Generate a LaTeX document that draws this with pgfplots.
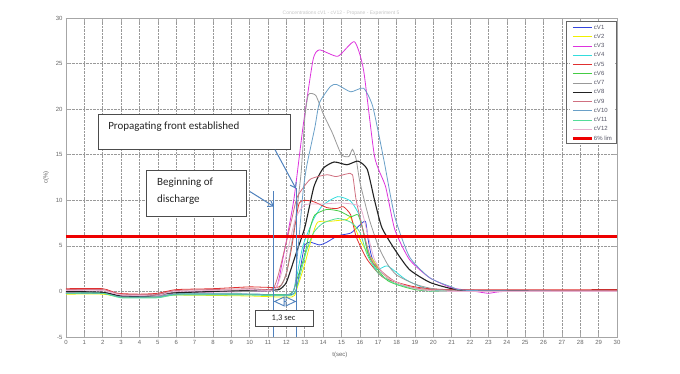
\documentclass[border=0pt]{standalone}
\usepackage{fontspec}
\setmainfont{Liberation Sans}
\newfontfamily\calibri{Carlito}
\usepackage{pgfplots}
\pgfplotsset{compat=1.18}
\usetikzlibrary{arrows.meta}
\definecolor{cva}{HTML}{3344DD}
\definecolor{cvb}{HTML}{F0F000}
\definecolor{cvc}{HTML}{DD33DD}
\definecolor{cvd}{HTML}{33DDDD}
\definecolor{cve}{HTML}{E03030}
\definecolor{cvf}{HTML}{44CC44}
\definecolor{cvg}{HTML}{999999}
\definecolor{cvh}{HTML}{222222}
\definecolor{cvi}{HTML}{D07080}
\definecolor{cvj}{HTML}{6AA0C8}
\definecolor{cvk}{HTML}{55DD99}
\definecolor{cvl}{HTML}{E8B0D0}
\definecolor{limred}{HTML}{EE0000}
\definecolor{annblue}{HTML}{4F81BD}
\definecolor{legtext}{HTML}{555566}
\newcommand{\lt}[1]{\textcolor{legtext}{#1}}
\begin{document}
\begin{tikzpicture}[x=1pt,y=1pt]
\begin{axis}[
  at={(66pt,36pt)}, anchor=south west,
  scale only axis, width=551pt, height=319pt,
  xmin=0, xmax=30, ymin=-5, ymax=30,
  xtick={0,1,...,30}, ytick={-5,0,...,30},
  grid=major,
  major grid style={densely dotted, draw=gray!80, line width=0.6pt},
  axis line style={draw=gray!70},
  tick style={draw=gray!70, line width=0.6pt},
  major tick length=4pt,
  xtick pos=both, ytick pos=both,
  ticklabel style={font=\fontsize{6}{7}\selectfont, text=gray!80!black},
  /pgf/number format/assume math mode=true,
  xlabel={t(sec)}, ylabel={c(\%)},
  label style={font=\fontsize{6}{7}\selectfont, text=gray!80!black},
  xlabel style={at={(axis description cs:0.497,-0.036)}, anchor=north},
  legend style={at={(1,1)}, anchor=north east, xshift=-2pt, yshift=-4pt,
    font=\fontsize{6}{7}\selectfont, draw=none, fill=white,
    cells={anchor=west}, inner xsep=2pt, inner ysep=1.5pt, row sep=1.85pt,
    nodes={inner sep=0.8pt, text height=4.6pt, text depth=1.2pt}},
  legend image code/.code={\draw[#1] (0pt,0pt) -- (19pt,0pt);},
  every axis plot/.append style={line width=0.8pt, smooth, tension=0.35},
]
\addplot[draw=cva] coordinates {(0,-0.2)(2,-0.2)(3,-0.6)(5,-0.6)(6,-0.3)(10,-0.3)(12,-0.4)(12.5,0)(12.8,3)(13.0,5.1)(13.3,5.4)(13.8,5.1)(14.2,5.4)(14.8,6.1)(15.5,6.4)(15.9,7.1)(16.3,7.7)(16.45,5.7)(16.7,3.5)(17.5,1.5)(19,0.3)(21,0)(30,0)};
\addlegendentry{\lt{cV1}}
\addplot[draw=cvb] coordinates {(0,-0.3)(2,-0.3)(3,-0.6)(5,-0.6)(6,-0.4)(10,-0.5)(12.3,-0.6)(12.6,0.5)(13,3)(13.4,6)(13.7,7.6)(14.4,7.7)(15.3,7.9)(15.5,8.1)(16,5.7)(16.4,4.3)(17.5,1.5)(19,0.3)(21,0)(30,0)};
\addlegendentry{\lt{cV2}}
\addplot[draw=cvc] coordinates {(0,-0.1)(2,-0.1)(3,-0.5)(5,-0.5)(6,-0.1)(10,0)(11.4,0.3)(11.8,3.5)(12.4,10)(12.9,18)(13.45,25.4)(13.8,26.5)(14.8,25.8)(15.7,27.4)(16.2,24.3)(16.8,14.8)(17.4,11.5)(17.9,6.8)(18.7,3.5)(19.8,1.5)(21,0.4)(22,0.1)(23,-0.2)(24,0)(30,0)};
\addlegendentry{\lt{cV3}}
\addplot[draw=cvd] coordinates {(0,-0.2)(2,-0.2)(3,-0.6)(5,-0.6)(6,-0.3)(10,-0.3)(12.2,-0.3)(12.5,1)(12.9,5)(13.5,8)(14.0,9.5)(14.8,10.4)(15.5,9.9)(16,8.2)(16.4,4.6)(16.9,2.4)(17.5,2.8)(18.5,1.3)(19.5,0.4)(21,0)(30,0)};
\addlegendentry{\lt{cV4}}
\addplot[draw=cve] coordinates {(0,0.3)(2,0.3)(2.8,-0.2)(4,-0.3)(5,-0.2)(6,0.2)(8,0.3)(10,0.5)(11.6,0.5)(12,2)(12.3,5)(12.7,9.7)(13.4,9.9)(14.2,9.2)(14.75,9.1)(15.1,9.3)(15.5,8.4)(15.8,6)(16.4,3.5)(17.3,1.5)(19,0.5)(21,0.2)(30,0.2)};
\addlegendentry{\lt{cV5}}
\addplot[draw=cvf] coordinates {(0,-0.2)(2,-0.2)(3,-0.6)(5,-0.6)(6,-0.3)(10,-0.3)(12.2,-0.3)(12.6,1.5)(13,4)(13.3,7)(13.55,8.4)(14.2,9)(14.9,8.8)(15.5,8.2)(15.9,8.4)(16.2,6.5)(16.5,3.8)(17.5,1.2)(19,0.2)(21,0)(30,0)};
\addlegendentry{\lt{cV6}}
\addplot[draw=cvg] coordinates {(0,-0.1)(2,-0.1)(3,-0.5)(5,-0.5)(6,-0.1)(10,0)(11.5,0.2)(12,2)(12.5,8)(12.8,13)(13.0,19)(13.2,21.6)(13.6,21.5)(14,19.5)(14.5,17.4)(15,15)(15.4,14.8)(15.6,15.6)(15.8,14.5)(16,12)(16.5,8)(17,5)(17.5,3)(18,1.8)(19,0.8)(20,0.3)(22,0)(30,0)};
\addlegendentry{\lt{cV7}}
\addplot[draw=cvh, line width=1.1pt] coordinates {(0,0)(2,-0.1)(3,-0.5)(4.5,-0.5)(5.5,-0.2)(8,0)(11,0.2)(11.6,0.2)(12,1)(12.5,4)(13,7)(13.5,11.5)(14,13.5)(14.6,14.2)(15.3,13.9)(15.9,14.3)(16.4,13.4)(16.8,10)(17.2,7)(17.9,4.6)(18.7,2.4)(19.8,1)(21,0.3)(22,0.1)(30,0.1)};
\addlegendentry{\lt{cV8}}
\addplot[draw=cvi] coordinates {(0,0.2)(2,0.2)(3,-0.3)(5,-0.3)(6,0.1)(10,0.3)(11.3,0.4)(11.9,4.6)(12.3,8)(12.6,10.4)(13.3,12.3)(14.2,12.8)(14.7,12.6)(15.3,12.9)(15.6,12.8)(15.8,10)(16.2,6.5)(16.7,3.2)(18,1)(20,0.2)(30,0.1)};
\addlegendentry{\lt{cV9}}
\addplot[draw=cvj] coordinates {(0,-0.2)(2,-0.2)(3,-0.6)(5,-0.6)(6,-0.3)(10,-0.3)(12.3,-0.2)(12.6,4)(12.9,10.8)(13.1,13.7)(13.55,18)(13.8,20.7)(14.4,22.5)(14.75,22.7)(15.5,21.9)(16.2,22.3)(16.7,20.3)(17.3,14.5)(17.9,8.2)(18.7,3.8)(19.8,1.5)(21,0.5)(22,0.1)(30,0)};
\addlegendentry{\lt{cV10}}
\addplot[draw=cvk] coordinates {(0,-0.2)(2,-0.2)(3,-0.7)(5,-0.7)(6,-0.4)(10,-0.4)(12.3,-0.4)(12.7,1.5)(13.1,4.5)(13.5,6.5)(14,7.5)(14.8,8)(15.5,7.6)(16,6.5)(16.4,4)(17,2)(18,0.8)(19.5,0.1)(21,0)(30,0)};
\addlegendentry{\lt{cV11}}
\addplot[draw=cvl] coordinates {(0,0.1)(2,0.1)(3,-0.4)(5,-0.4)(6,0)(10,0.2)(11.4,0.3)(12,4)(12.5,8)(13,9.5)(14,9.6)(15,9.7)(16,9.3)(16.4,6.5)(16.8,3.5)(17.5,1.5)(19,0.3)(21,0)(30,0)};
\addlegendentry{\lt{cV12}}
\addplot[draw=limred, line width=2.6pt, sharp plot] coordinates {(0,6)(30,6)};
\addlegendentry{\lt{6\% lim}}
% annotations
\draw[draw=gray!60!black, fill=white, line width=0.7pt] (axis cs:1.74,15.55) rectangle (axis cs:12.19,19.4);
\node[anchor=west, inner sep=0pt, font=\calibri\fontsize{11}{13}\selectfont, text=black!85] at (axis cs:2.29,18.1) {Propagating front established};
\draw[draw=gray!60!black, fill=white, line width=0.7pt] (axis cs:4.35,8.21) rectangle (axis cs:9.80,13.25);
\node[anchor=west, inner sep=0pt, font=\calibri\fontsize{11}{13}\selectfont, text=black!85] at (axis cs:4.95,11.94) {Beginning of};
\node[anchor=west, inner sep=0pt, font=\calibri\fontsize{11}{13}\selectfont, text=black!85] at (axis cs:4.95,10.08) {discharge};
\draw[annblue, line width=1pt, -{Straight Barb[length=5pt,width=7pt]}] (axis cs:11.38,15.55) -- (axis cs:12.52,11.28);
\draw[annblue, line width=1pt, -{Straight Barb[length=5pt,width=7pt]}] (axis cs:10.02,10.95) -- (axis cs:11.32,9.31);
\draw[annblue, line width=1pt] (axis cs:11.3,11) -- (axis cs:11.3,-5);
\draw[annblue, line width=1pt] (axis cs:12.55,11.3) -- (axis cs:12.55,-5);
\draw[annblue, line width=0.9pt, {Triangle[open,length=11pt,width=10pt]}-{Triangle[open,length=11pt,width=10pt]}] (axis cs:11.3,-1.1) -- (axis cs:12.55,-1.1);
\draw[draw=gray!60!black, fill=white, line width=0.7pt] (axis cs:10.29,-3.83) rectangle (axis cs:13.45,-2.08);
\node[font=\calibri\fontsize{8.5}{10}\selectfont, text=black!85] at (axis cs:11.85,-2.96) {1,3 sec};
\end{axis}
% legend frame (px 566-616, py 21-143)
\draw[gray!80!black, line width=0.6pt] (566,230) rectangle (616,352);
\node[font=\fontsize{5}{6}\selectfont, text=gray!45] at (341,360) {Concentrations cV1 - cV12 - Propane - Experiment 5};
\pgfresetboundingbox
\path (0,0) rectangle (680,373);
\end{tikzpicture}
\end{document}
